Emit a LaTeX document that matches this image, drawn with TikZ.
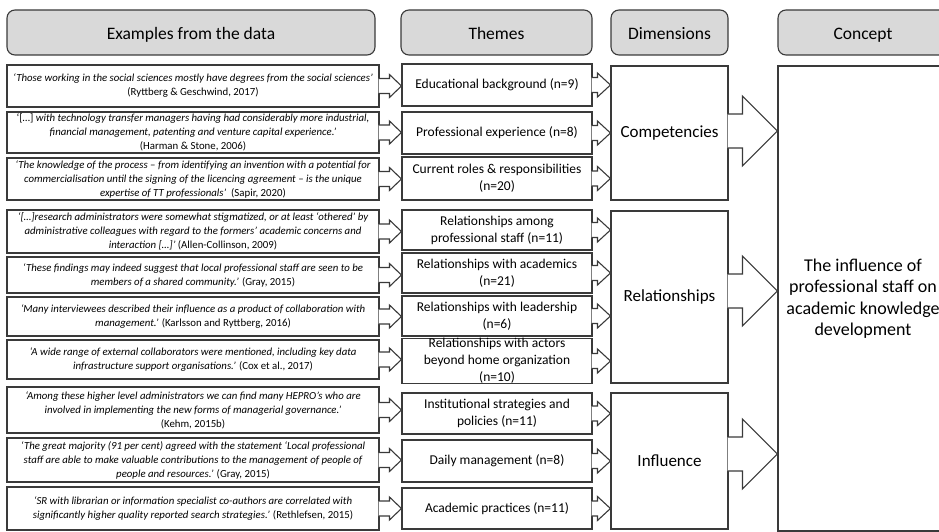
\documentclass[tikz,border=0pt]{standalone}
\usepackage{fontspec}
\setmainfont{Carlito}
\usepackage{xcolor}
\usetikzlibrary{calc}

\definecolor{linegray}{HTML}{3A3A3A}
\definecolor{headgray}{HTML}{D9D9D9}

\newcommand{\src}[1]{{\upshape #1}}
\newcommand{\blkarrow}[6]{%
  \draw[blk] let \p1=(#1.east), \p2=(#2.west), \p3=(\x2,\y1+#6pt) in
    (\x1-1pt,\y3+#3pt) -- (\x3-#5pt,\y3+#3pt) -- (\x3-#5pt,\y3+#4pt) -- (\p3)
    -- (\x3-#5pt,\y3-#4pt) -- (\x3-#5pt,\y3-#3pt) -- (\x1-1pt,\y3-#3pt);}

\tikzset{
  headbox/.style={draw=linegray, fill=headgray, rounded corners=8pt, line width=1.1pt,
    inner sep=0pt, text height=15pt, text depth=0pt, font=\fontsize{17.5}{20}\selectfont},
  exbox/.style={draw=linegray, line width=1.1pt, minimum width=372pt, inner sep=0pt,
    align=center, font=\fontsize{10.8}{14}\selectfont\itshape},
  thbox/.style={draw=linegray, line width=1.1pt, minimum width=190pt, inner sep=0pt,
    align=center, font=\fontsize{13.5}{17}\selectfont},
  dimbox/.style={draw=linegray, line width=1.1pt, minimum width=117pt, inner sep=0pt,
    align=center, font=\fontsize{17}{20}\selectfont},
  blk/.style={draw=linegray, line width=1.1pt, fill=white, line join=miter}
}

\begin{document}
\begin{tikzpicture}[x=1pt,y=-1pt]
  \useasboundingbox (0,0) rectangle (939,532);
  \clip (0,0) rectangle (939,532);

  \node[headbox, minimum width=368pt, minimum height=45pt] (hex) at (191,32.5) {Examples from the data};
  \node[headbox, minimum width=191pt, minimum height=45pt] (hth) at (496.5,32.5) {Themes};
  \node[headbox, minimum width=117pt, minimum height=45pt] (hdim) at (669.5,32.5) {Dimensions};
  \node[headbox, minimum width=170pt, minimum height=45pt] (hcon) at (863,32.5) {Concept};

  \foreach \r/\ya/\yb/\txt in {
    1/65/107/{‘Those working in the social sciences mostly have degrees from the social sciences’\\\src{(Ryttberg \& Geschwind, 2017)}},
    2/112/153/{\src{‘[…]} with technology transfer managers having had considerably more industrial,\\financial management, patenting and venture capital experience.’\\\src{(Harman \& Stone, 2006)}},
    3/158/200/{‘The knowledge of the process – from identifying an invention with a potential for\\commercialisation until the signing of the licencing agreement – is the unique\\expertise of TT professionals’ \src{ (Sapir, 2020)}},
    4/210/253/{‘[…]research administrators were somewhat stigmatized, or at least ‘othered’ by\\administrative colleagues with regard to the formers’ academic concerns and\\interaction […]’ \src{(Allen-Collinson, 2009)}},
    5/257/293/{‘These findings may indeed suggest that local professional staff are seen to be\\members of a shared community.’ \src{(Gray, 2015)}},
    6/297/336/{‘Many interviewees described their influence as a product of collaboration with\\management.’ \src{(Karlsson and Ryttberg, 2016)}},
    7/340/379/{‘A wide range of external collaborators were mentioned, including key data\\infrastructure support organisations.’ \src{(Cox et al., 2017)}},
    8/387/433/{‘Among these higher level administrators we can find many HEPRO’s who are\\involved in implementing the new forms of managerial governance.’\\\src{(Kehm, 2015b)}},
    9/438/482/{‘The great majority (91 per cent) agreed with the statement ‘Local professional\\staff are able to make valuable contributions to the management of people of\\people and resources.’ \src{(Gray, 2015)}},
    10/487/530/{‘SR with librarian or information specialist co-authors are correlated with\\significantly higher quality reported search strategies.’ \src{(Rethlefsen, 2015)}}}{
    \pgfmathsetmacro{\yc}{(\ya+\yb)/2}
    \pgfmathsetlengthmacro{\h}{\yb-\ya}
    \node[exbox, minimum height=\h] (ex\r) at (193,\yc) {\txt};
  }

  \foreach \r/\ya/\yb/\txt in {
    1/64/106/{Educational background (n=9)},
    2/112/154/{Professional experience (n=8)},
    3/157/200/{Current roles \& responsibilities\\(n=20)},
    4/210/250/{Relationships among\\professional staff (n=11)},
    5/253/293/{Relationships with academics\\(n=21)},
    6/296/336/{Relationships with leadership\\(n=6)},
    7/339/383/{Relationships with actors\\beyond home organization\\(n=10)},
    8/393/434/{Institutional strategies and\\policies (n=11)},
    9/440/482/{Daily management (n=8)},
    10/488/529/{Academic practices (n=11)}}{
    \pgfmathsetmacro{\yc}{(\ya+\yb)/2}
    \pgfmathsetlengthmacro{\h}{\yb-\ya}
    \node[thbox, minimum height=\h] (th\r) at (497,\yc) {\txt};
  }

  \node[dimbox, minimum height=134pt] (dim1) at (669.5,133) {Competencies};
  \node[dimbox, minimum height=172pt] (dim2) at (669.5,297) {Relationships};
  \node[dimbox, minimum height=136pt] (dim3) at (669.5,461) {Influence};

  \node[draw=linegray, line width=1.1pt, minimum width=170pt, minimum height=465pt,
    inner sep=0pt, align=center, font=\fontsize{18}{21.5}\selectfont] (con) at (863,298.5)
    {The influence of\\professional staff on\\academic knowledge\\development};

  \foreach \r in {1,...,10}
    \blkarrow{ex\r}{th\r}{7.5}{11.5}{12}{0};
  \foreach \r/\d in {1/1,2/1,3/1,4/2,5/2,6/2,7/2,8/3,9/3,10/3}
    \blkarrow{th\r}{dim\d}{7.5}{12}{13}{0};
  \blkarrow{dim1}{con}{17}{35}{35}{2}
  \blkarrow{dim2}{con}{17}{35}{35}{6}
  \blkarrow{dim3}{con}{17}{35}{35}{7}
\end{tikzpicture}
\end{document}
